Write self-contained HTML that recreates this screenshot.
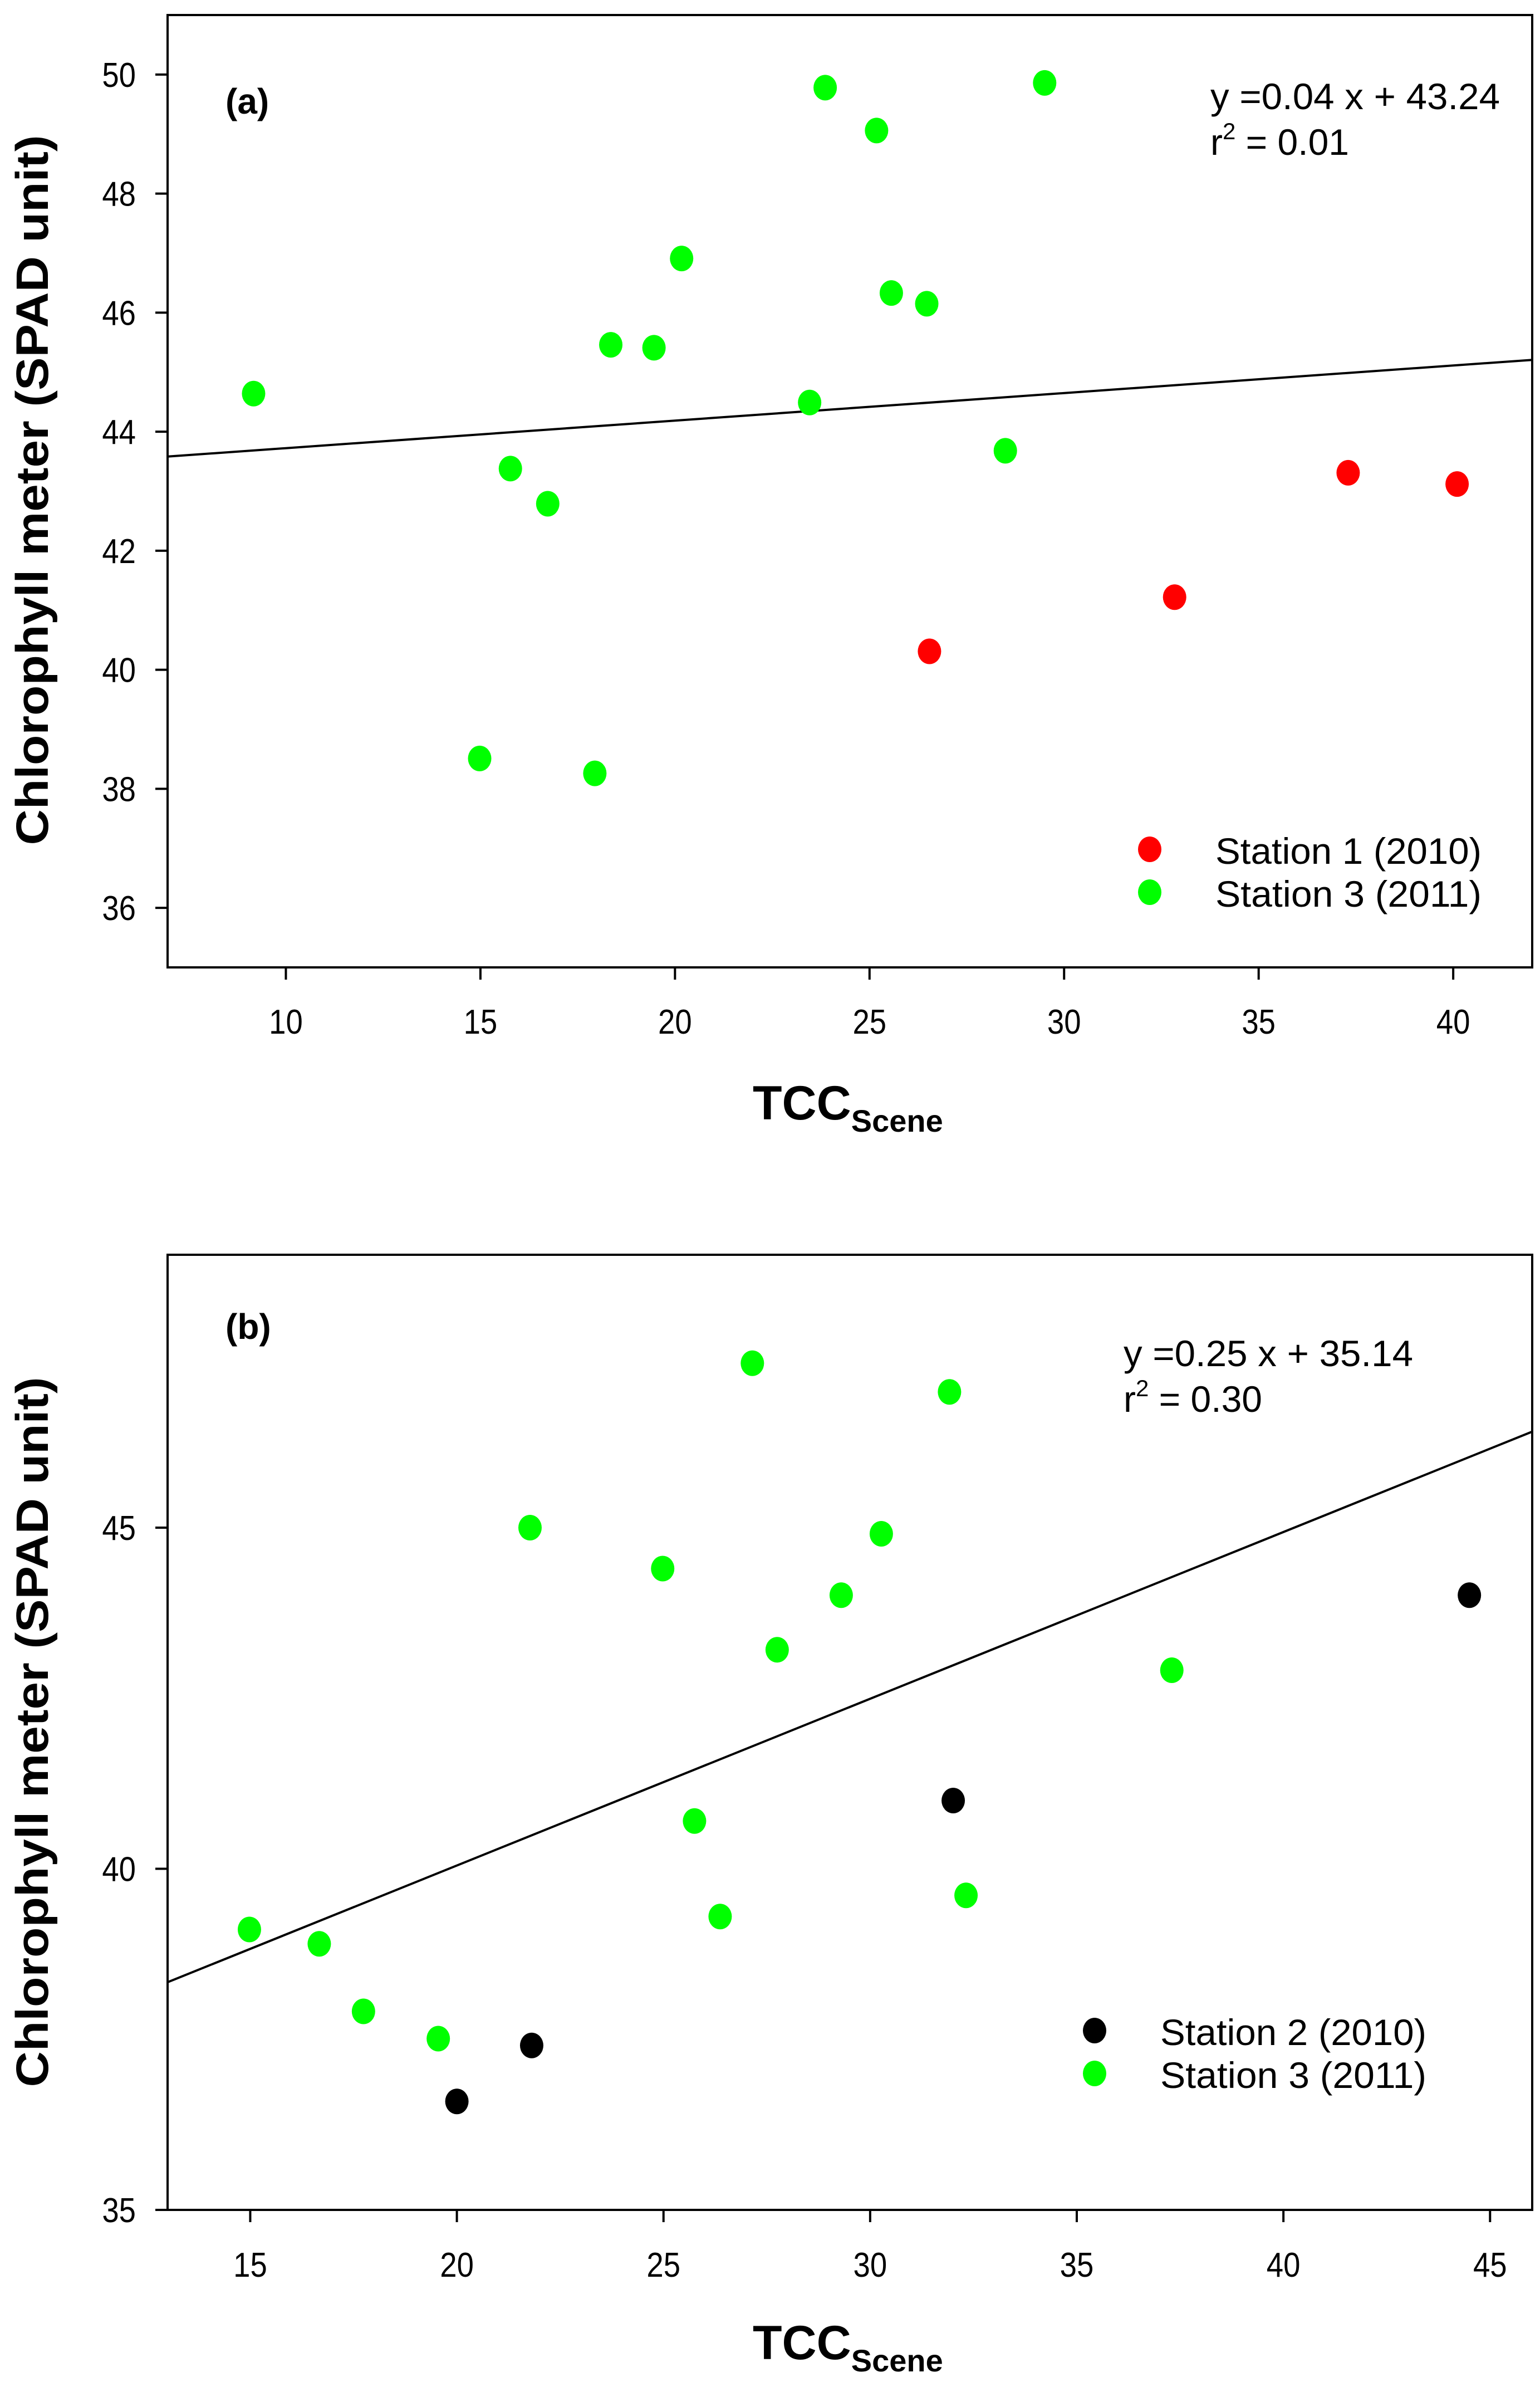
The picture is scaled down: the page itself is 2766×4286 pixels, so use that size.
<!DOCTYPE html>
<html><head><meta charset="utf-8">
<style>
html,body{margin:0;padding:0;background:#fff;}
svg{display:block;font-family:"Liberation Sans",Arial,sans-serif;}
</style></head>
<body>
<svg id="chart" width="2766" height="4286" viewBox="0 0 2766 4286" xmlns="http://www.w3.org/2000/svg">
<rect width="2766" height="4286" fill="#fff"/>
<g id="pa"></g>
<g id="pb"></g>
</svg>
<script>
// ---- Panel (a) data ----
const aStation3X = [9.17, 23.86, 25.18, 29.5, 20.17, 25.56, 26.47, 18.35, 19.46, 23.46, 28.49, 15.77, 16.73, 14.98, 17.94];
const aStation3Y = [44.64, 49.78, 49.06, 49.86, 46.91, 46.33, 46.15, 45.46, 45.41, 44.49, 43.68, 43.38, 42.79, 38.51, 38.26];
const aStation1X = [37.3, 40.1, 32.84, 26.54];
const aStation1Y = [43.31, 43.12, 41.22, 40.31];
const aFit = [0.0463, 43.26];
const aXTicks = [10, 15, 20, 25, 30, 35, 40];
const aYTicks = [36, 38, 40, 42, 44, 46, 48, 50];
// ---- Panel (b) data ----
const bStation3X = [27.15, 31.92, 21.77, 30.27, 24.98, 29.30, 27.75, 37.30, 25.75, 32.32, 26.37, 14.98, 16.67, 17.74, 19.55];
const bStation3Y = [47.41, 46.99, 45.0, 44.91, 44.40, 44.01, 43.21, 42.91, 40.70, 39.61, 39.30, 39.11, 38.90, 37.91, 37.51];
const bStation2X = [44.50, 32.01, 21.81, 20.0];
const bStation2Y = [44.01, 41.00, 37.41, 36.59];
const bFit = [0.2444, 35.16];
const bXTicks = [15, 20, 25, 30, 35, 40, 45];
const bYTicks = [35, 40, 45];

const NS = "http://www.w3.org/2000/svg";
function mk(parent, tag, attrs, text) {
  const e = document.createElementNS(NS, tag);
  for (const k in attrs) e.setAttribute(k, attrs[k]);
  if (text !== undefined) e.textContent = text;
  parent.appendChild(e);
  return e;
}

function drawPanel(g, cfg) {
  const L = 301, R = 2752, T = cfg.top, B = cfg.bottom;
  const sx = v => L + (v - cfg.xmin) / (cfg.xmax - cfg.xmin) * (R - L);
  const sy = v => B - (v - cfg.ymin) / (cfg.ymax - cfg.ymin) * (B - T);
  const fr = mk(g, 'rect', {x: L, y: T, width: R - L, height: B - T, fill: 'none', stroke: '#000', 'stroke-width': 4});
  
  
  cfg.xticks.forEach(t => {
    const tk = mk(g, 'line', {x1: sx(t), x2: sx(t), y1: B, y2: B + 22, stroke: '#000', 'stroke-width': 4});
    
    
    const tl = mk(g, 'text', {x: sx(t), y: cfg.xLabelY, 'font-size': 62, 'text-anchor': 'middle', transform: 'translate(' + sx(t) + ',0) scale(0.88,1) translate(' + (-sx(t)) + ',0)'}, String(t));
    
    
  });
  cfg.yticks.forEach(t => {
    const tk = mk(g, 'line', {x1: L - 22, x2: L, y1: sy(t), y2: sy(t), stroke: '#000', 'stroke-width': 4});
    
    
    const tl = mk(g, 'text', {x: 244, y: sy(t) + 22, 'font-size': 62, 'text-anchor': 'end', transform: 'translate(244,0) scale(0.88,1) translate(-244,0)'}, String(t));
    
    
  });
  const fl = mk(g, 'line', {x1: sx(cfg.xmin), y1: sy(cfg.fit[0] * cfg.xmin + cfg.fit[1]), x2: sx(cfg.xmax), y2: sy(cfg.fit[0] * cfg.xmax + cfg.fit[1]), stroke: '#000', 'stroke-width': 4});
  
  
  cfg.series.forEach(s => {
    s.x.forEach((xv, i) => {
      const p = mk(g, 'ellipse', {cx: sx(xv), cy: sy(s.y[i]), rx: 21, ry: 23, fill: s.color});
      
      
    });
  });
  const pl = mk(g, 'text', {x: 405, y: cfg.labY, 'font-size': 64, 'font-weight': 'bold'}, cfg.label);
  
  
  const eq = mk(g, 'text', {x: cfg.eqX, y: cfg.eqY, 'font-size': 66, textLength: 520, lengthAdjust: 'spacingAndGlyphs'}, cfg.eq);
  
  
  const r2 = mk(g, 'text', {x: cfg.eqX, y: cfg.eqY + 82, 'font-size': 66});
  
  
  mk(r2, 'tspan', {}, 'r');
  mk(r2, 'tspan', {dy: -28, 'font-size': 42}, '2');
  mk(r2, 'tspan', {dy: 28}, ' = ' + cfg.r2);
  cfg.series.forEach((s, i) => {
    const ly = cfg.legY + i * 77;
    const lm = mk(g, 'ellipse', {cx: cfg.legX, cy: ly - 26, rx: 21, ry: 23, fill: s.color});
    
    
    const lt = mk(g, 'text', {x: cfg.legX + 118, y: ly, 'font-size': 66, textLength: 478, lengthAdjust: 'spacingAndGlyphs'}, s.label);
    
    
  });
  const yt = mk(g, 'text', {x: 0, y: 0, 'font-size': 82, 'font-weight': 'bold', 'text-anchor': 'middle', transform: 'translate(86,' + cfg.yTitleY + ') rotate(-90)', textLength: 1275, lengthAdjust: 'spacingAndGlyphs'}, 'Chlorophyll meter (SPAD unit)');
  
  
  const xt = mk(g, 'text', {x: 1352, y: cfg.xTitleY, 'font-size': 86, 'font-weight': 'bold'});
  
  
  mk(xt, 'tspan', {}, 'TCC');
  mk(xt, 'tspan', {dy: 22, 'font-size': 56}, 'Scene');
}

drawPanel(document.getElementById('pa'), {
  top: 27, bottom: 1737, xmin: 6.96, xmax: 42.03, ymin: 35.0, ymax: 51.0,
  xticks: aXTicks, yticks: aYTicks, fit: aFit, xLabelY: 1856,
  series: [
    {name: 'station1', label: 'Station 1 (2010)', color: '#ff0000', x: aStation1X, y: aStation1Y},
    {name: 'station3', label: 'Station 3 (2011)', color: '#00ff00', x: aStation3X, y: aStation3Y}
  ],
  label: '(a)', labY: 204, eq: 'y =0.04 x + 43.24', r2: '0.01', eqX: 2174, eqY: 196,
  legX: 2065, legY: 1551, yTitleY: 880, xTitleY: 2010
});
drawPanel(document.getElementById('pb'), {
  top: 2253, bottom: 3968, xmin: 13.0, xmax: 46.02, ymin: 35.0, ymax: 49.0,
  xticks: bXTicks, yticks: bYTicks, fit: bFit, xLabelY: 4088,
  series: [
    {name: 'station2', label: 'Station 2 (2010)', color: '#000000', x: bStation2X, y: bStation2Y},
    {name: 'station3', label: 'Station 3 (2011)', color: '#00ff00', x: bStation3X, y: bStation3Y}
  ],
  label: '(b)', labY: 2404, eq: 'y =0.25 x + 35.14', r2: '0.30', eqX: 2018, eqY: 2453,
  legX: 1966, legY: 3672, yTitleY: 3110, xTitleY: 4236
});
</script>
</body></html>
